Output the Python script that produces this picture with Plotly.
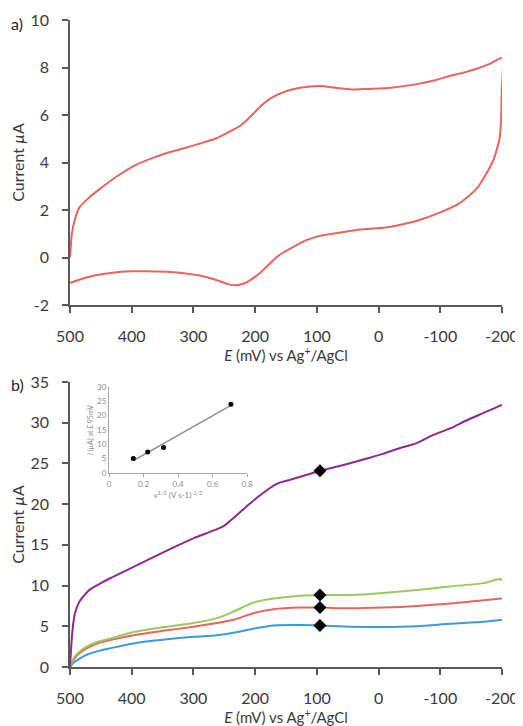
import numpy as np
import plotly.graph_objects as go

# ---------------- data ----------------
# Panel a: cyclic voltammogram (forward scan 500 -> -200, then back)
cv_E = [500, 497, 492, 485, 470, 451, 425, 397, 370, 343, 315, 289, 265, 245, 224, 205, 192, 175,
        150, 127, 95, 70, 40, 19, -20, -62, -90, -116, -140, -159, -180, -200,
        -199.5, -198.5, -196, -191, -186, -175, -159, -132, -100, -62, -30, -8, 20, 46, 75, 100,
        120, 138, 155, 165, 180, 192, 205, 214, 225, 233, 245, 257, 280, 300, 343, 397, 425, 451,
        475, 498, 500]
cv_I = [0.0, 1.0, 1.6, 2.1, 2.5, 2.9, 3.4, 3.85, 4.15, 4.4, 4.6, 4.8, 5.0, 5.25, 5.55, 6.0, 6.35, 6.7,
        7.0, 7.15, 7.22, 7.15, 7.07, 7.1, 7.15, 7.3, 7.45, 7.65, 7.8, 7.95, 8.15, 8.4,
        7.0, 5.8, 5.0, 4.5, 4.1, 3.55, 2.9, 2.3, 1.9, 1.55, 1.35, 1.25, 1.2, 1.12, 1.0, 0.88,
        0.7, 0.45, 0.2, 0.02, -0.35, -0.65, -0.9, -1.05, -1.15, -1.17, -1.12, -1.0, -0.82, -0.72,
        -0.6, -0.58, -0.62, -0.72, -0.85, -1.05, -1.07]

# Panel b: linear sweeps at four scan rates
purple_E = [500, 498, 496, 492, 485, 478, 468, 450, 435, 397, 343, 300, 273, 251, 235, 214, 192,
            165, 143, 116, 95, 57, 19, -8, -35, -62, -89, -116, -143, -170, -200]
purple_I = [0.0, 2.5, 4.5, 6.6, 8.0, 8.7, 9.5, 10.3, 10.9, 12.3, 14.3, 15.8, 16.6, 17.3, 18.3, 19.7,
            21.1, 22.5, 23.0, 23.6, 24.1, 24.8, 25.6, 26.2, 26.9, 27.5, 28.5, 29.3, 30.3, 31.2, 32.2]

green_E = [500, 497, 492, 483, 473, 455, 435, 397, 343, 300, 262, 235, 203, 170, 127, 95, 46, -8,
           -62, -116, -170, -197, -200]
green_I = [0.0, 0.6, 1.3, 2.0, 2.5, 3.1, 3.5, 4.3, 4.95, 5.4, 6.0, 6.8, 7.9, 8.4, 8.76, 8.85, 8.85,
           9.1, 9.45, 9.9, 10.3, 10.8, 10.6]

red_E = [500, 497, 492, 483, 473, 455, 435, 397, 343, 300, 262, 235, 203, 170, 127, 95, 46, -8,
         -62, -116, -170, -200]
red_I = [0.0, 0.5, 1.1, 1.8, 2.3, 2.9, 3.3, 3.9, 4.5, 4.95, 5.4, 5.8, 6.6, 7.1, 7.3, 7.3, 7.2, 7.3,
         7.5, 7.8, 8.2, 8.4]

blue_E = [500, 497, 492, 483, 473, 455, 435, 397, 343, 300, 262, 235, 203, 170, 127, 95, 46, -8,
          -62, -116, -170, -200]
blue_I = [0.0, 0.3, 0.65, 1.1, 1.5, 1.95, 2.3, 2.9, 3.4, 3.7, 3.9, 4.2, 4.7, 5.1, 5.15, 5.1, 4.95,
          4.9, 5.0, 5.3, 5.55, 5.8]

# Diamond markers at E = 95 mV
marker_E = [95, 95, 95, 95]
marker_I = [5.1, 7.3, 8.85, 24.1]

# Inset: peak current vs square root of scan rate
inset_x = [0.141, 0.224, 0.316, 0.707]
inset_y = [5.1, 7.3, 8.9, 24.0]

x_ticks = [500, 400, 300, 200, 100, 0, -100, -200]
x_labels = ["500", "400", "300", "200", "100", "0", "-100", "-200"]
ya_ticks = [-2, 0, 2, 4, 6, 8, 10]
ya_labels = ["-2", "0", "2", "4", "6", "8", "10"]
yb_ticks = [0, 5, 10, 15, 20, 25, 30, 35]
inset_xticks = [0, 0.2, 0.4, 0.6, 0.8]
inset_xlabels = ["0", "0.2", "0.4", "0.6", "0.8"]
inset_yticks = [0, 5, 10, 15, 20, 25, 30]

# ---------------- layout helpers ----------------
# the page body has an 8px default margin, so the figure starts at (8, 8) on screen
OFF = 8
W, H = 515, 718
def px_x(p):
    return (p - OFF) / W
def px_y(p):
    return 1 - (p - OFF) / H

FONT = "Lato, 'Open Sans', sans-serif"
TXT = "#3a3a3a"
AX = "#595959"

fig = go.Figure()

# Panel a
fig.add_trace(go.Scatter(x=cv_E, y=cv_I, mode="lines", line=dict(color="#E8645E", width=2, shape="spline", smoothing=0.6),
                         xaxis="x", yaxis="y", showlegend=False))

# Panel b
for E, I, col in [(blue_E, blue_I, "#3D9BD6"), (red_E, red_I, "#E8645E"),
                  (green_E, green_I, "#9CC95E"), (purple_E, purple_I, "#8E2A8E")]:
    fig.add_trace(go.Scatter(x=E, y=I, mode="lines", line=dict(color=col, width=2, shape="spline", smoothing=0.8),
                             xaxis="x2", yaxis="y2", showlegend=False))
fig.add_trace(go.Scatter(x=marker_E, y=marker_I, mode="markers",
                         marker=dict(symbol="diamond", color="black", size=10),
                         xaxis="x2", yaxis="y2", showlegend=False))

# Inset
slope, intercept = np.polyfit(inset_x, inset_y, 1)
fit_x = [min(inset_x), max(inset_x)]
fit_y = [slope * v + intercept for v in fit_x]
fig.add_trace(go.Scatter(x=fit_x, y=fit_y, mode="lines", line=dict(color="#8c8c8c", width=1.5),
                         xaxis="x3", yaxis="y3", showlegend=False))
fig.add_trace(go.Scatter(x=inset_x, y=inset_y, mode="markers", marker=dict(color="black", size=5),
                         xaxis="x3", yaxis="y3", showlegend=False))

xdom = [px_x(70), px_x(502)]
common_x = dict(domain=xdom, range=[500, -200], tickvals=x_ticks, ticktext=x_labels, ticks="outside", ticklen=6,
                tickwidth=1.5, tickcolor=AX, showline=True, linecolor=AX, linewidth=1.5, automargin=False,
                showgrid=False, zeroline=False, tickfont=dict(size=16, color=TXT, family=FONT),
                ticklabelstandoff=10,
                title=dict(text="<i>E</i> (mV) vs Ag<sup>+</sup>/AgCl", font=dict(size=15, color=TXT, family=FONT), standoff=7))
common_y = dict(ticks="outside", ticklen=6, tickwidth=1.5, tickcolor=AX, showline=True, linecolor=AX,
                linewidth=1.5, showgrid=False, zeroline=False, automargin=False,
                tickfont=dict(size=16, color=TXT, family=FONT), ticklabelstandoff=10,
                title=dict(text="Current <i>µ</i>A", font=dict(size=16, color=TXT, family=FONT), standoff=8))

inset_font = dict(size=8, color="#8c8c8c", family=FONT)
fig.update_layout(
    width=W, height=H, margin=dict(l=0, r=0, t=0, b=0),
    paper_bgcolor="white", plot_bgcolor="white",
    xaxis=dict(common_x, anchor="y"),
    yaxis=dict(common_y, domain=[px_y(305), px_y(20)], range=[-2, 10], tickvals=ya_ticks, ticktext=ya_labels, anchor="x"),
    xaxis2=dict(common_x, anchor="y2"),
    yaxis2=dict(common_y, domain=[px_y(667), px_y(382)], range=[0, 35], tickvals=yb_ticks, anchor="x2"),
    xaxis3=dict(domain=[px_x(109), px_x(247)], range=[0, 0.8], tickvals=inset_xticks, ticktext=inset_xlabels,
                anchor="y3", automargin=False,
                showline=True, linecolor="#a6a6a6", linewidth=1, ticks="outside", ticklen=3,
                tickcolor="#a6a6a6", showgrid=False, zeroline=False, tickfont=inset_font,
                title=dict(text="v<sup>1/2</sup> (V s-1)<sup>-1/2</sup>", font=inset_font, standoff=2)),
    yaxis3=dict(domain=[px_y(473), px_y(387)], range=[0, 30], tickvals=inset_yticks, anchor="x3", automargin=False,
                showline=True, linecolor="#a6a6a6", linewidth=1, ticks="", showgrid=False,
                zeroline=False, tickfont=inset_font,
                title=dict(text="<i>I</i> (µA) at <i>E</i> 95mV", font=dict(size=7, color="#8c8c8c", family=FONT), standoff=2)),
    annotations=[
        dict(text="a)", x=px_x(17), y=px_y(24), xref="paper", yref="paper", showarrow=False,
             font=dict(size=16, color="#262626", family=FONT), xanchor="center", yanchor="middle"),
        dict(text="b)", x=px_x(17), y=px_y(384), xref="paper", yref="paper", showarrow=False,
             font=dict(size=16, color="#262626", family=FONT), xanchor="center", yanchor="middle"),
    ],
)

fig.write_html("out.html")
